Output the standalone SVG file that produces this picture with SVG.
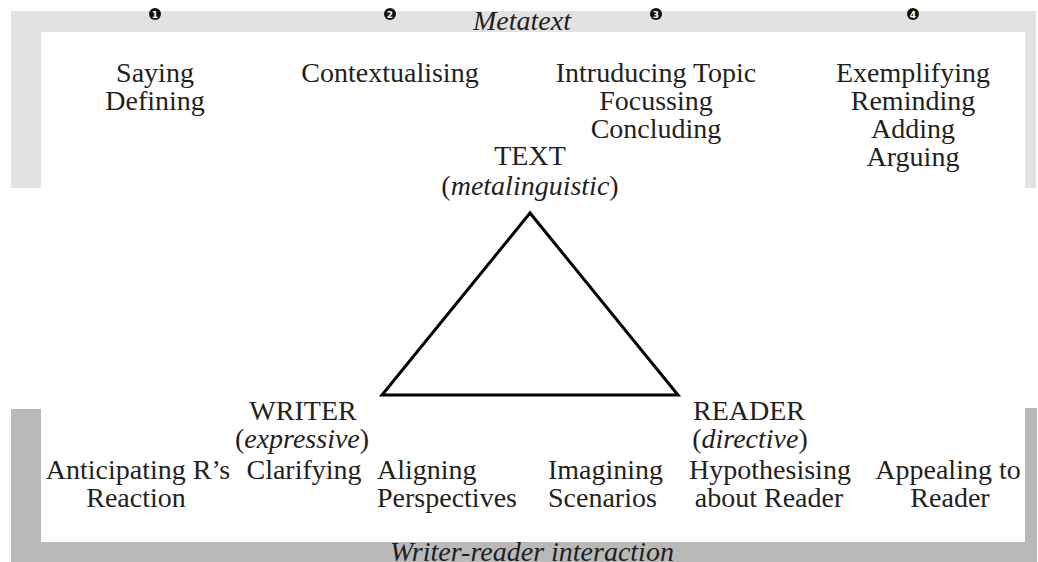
<svg xmlns="http://www.w3.org/2000/svg" width="1038" height="562" viewBox="0 0 1038 562">
<style>
text{font-family:"Liberation Serif","Times New Roman",serif;font-size:28px;fill:#231f20;text-anchor:middle}
.it{font-style:italic}
.l{text-anchor:start}
.num{font-family:"DejaVu Sans",sans-serif;font-size:9px;font-weight:bold;fill:#fff}
.dot{fill:#111}
.tri{fill:none;stroke:#000;stroke-width:3;stroke-linejoin:miter}
</style>
<rect width="1038" height="562" fill="#fff"/>
<g id="metatext-frame">
<path d="M11 11H1036V188H1025V32H41V188H11Z" fill="#e2e2e2"/>
<text x="522" y="30" class="it">Metatext</text>
</g>
<g id="interaction-frame">
<path d="M11 409H41V542H1025V408H1037V562H11Z" fill="#b9b9b9"/>
<text x="532" y="561" class="it">Writer-reader interaction</text>
</g>
<g id="m1">
<circle cx="155" cy="14" r="6" class="dot"/><text x="155" y="17.5" class="num">1</text>
<text x="155" y="82">Saying</text><text x="155" y="110">Defining</text>
</g>
<g id="m2">
<circle cx="390" cy="14" r="6" class="dot"/><text x="390" y="17.5" class="num">2</text>
<text x="390" y="82">Contextualising</text>
</g>
<g id="m3">
<circle cx="656" cy="14" r="6" class="dot"/><text x="656" y="17.5" class="num">3</text>
<text x="656" y="82">Intruducing Topic</text><text x="656" y="110">Focussing</text><text x="656" y="138">Concluding</text>
</g>
<g id="m4">
<circle cx="913" cy="14" r="6" class="dot"/><text x="913" y="17.5" class="num">4</text>
<text x="913" y="82">Exemplifying</text><text x="913" y="110">Reminding</text><text x="913" y="138">Adding</text><text x="913" y="166">Arguing</text>
</g>
<g id="connectors">
<path class="tri" d="M530 213L382 395H678Z"/>
</g>
<g id="text-node">
<text x="530" y="165">TEXT</text>
<text x="530" y="195">(<tspan class="it">metalinguistic</tspan>)</text>
</g>
<g id="writer-node">
<text x="303" y="420">WRITER</text>
<text x="302" y="448">(<tspan class="it">expressive</tspan>)</text>
</g>
<g id="reader-node">
<text x="749" y="420">READER</text>
<text x="750" y="448">(<tspan class="it">directive</tspan>)</text>
</g>
<g id="w1"><text x="138" y="479">Anticipating R’s</text><text x="136" y="507">Reaction</text></g>
<g id="w2"><text x="304" y="479">Clarifying</text></g>
<g id="w3"><text x="377" y="479" class="l">Aligning</text><text x="377" y="507" class="l">Perspectives</text></g>
<g id="w4"><text x="548" y="479" class="l">Imagining</text><text x="548" y="507" class="l">Scenarios</text></g>
<g id="w5"><text x="770" y="479">Hypothesising</text><text x="769" y="507">about Reader</text></g>
<g id="w6"><text x="948" y="479">Appealing to</text><text x="950" y="507">Reader</text></g>
</svg>
